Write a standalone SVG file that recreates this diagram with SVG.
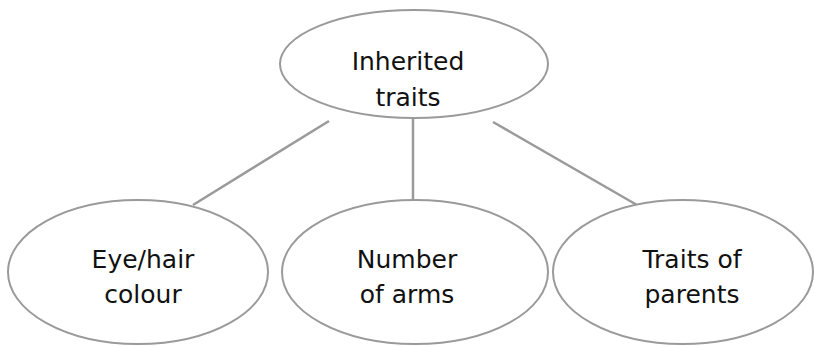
<svg xmlns="http://www.w3.org/2000/svg" width="814" height="347" viewBox="0 0 814 347">
<style>
.n{fill:#fff;stroke:#9a9a9a;stroke-width:2}
.t{font-family:"DejaVu Sans","Liberation Sans",sans-serif;font-size:25px;fill:#111;text-anchor:middle}
.c{stroke:#9a9a9a;stroke-width:2.5;fill:none}
</style>
<rect width="814" height="347" fill="#fff"/>
<g id="connectors">
<line class="c" x1="329" y1="121" x2="193" y2="205"/>
<line class="c" x1="413" y1="118" x2="413" y2="200"/>
<line class="c" x1="493" y1="122" x2="637" y2="205"/>
</g>
<g id="inherited">
<ellipse class="n" cx="414" cy="64" rx="134" ry="54"/>
<text class="t" x="408" y="70">Inherited</text>
<text class="t" x="408" y="106">traits</text>
</g>
<g id="eyehair">
<ellipse class="n" cx="138" cy="272" rx="130" ry="72"/>
<text class="t" x="143" y="268">Eye/hair</text>
<text class="t" x="143" y="303">colour</text>
</g>
<g id="arms">
<ellipse class="n" cx="415" cy="272" rx="133" ry="72"/>
<text class="t" x="407" y="268">Number</text>
<text class="t" x="407" y="303">of arms</text>
</g>
<g id="parents">
<ellipse class="n" cx="683" cy="272" rx="130" ry="72"/>
<text class="t" x="692" y="268">Traits of</text>
<text class="t" x="692" y="303">parents</text>
</g>
</svg>
